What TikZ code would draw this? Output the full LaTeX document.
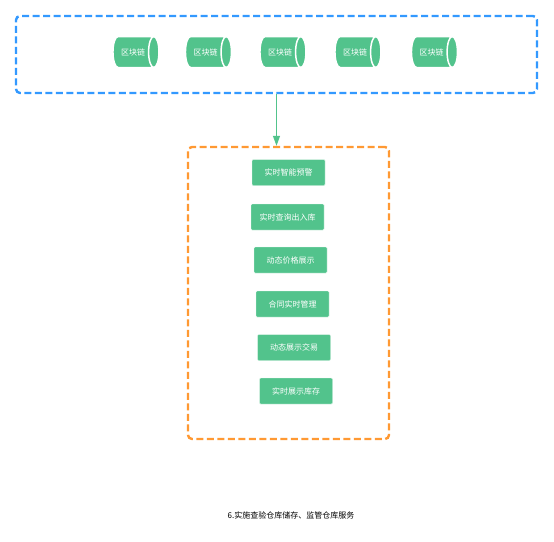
\documentclass[tikz,border=0pt]{standalone}
\usepackage{fontspec}
\setmainfont{Noto Sans CJK SC}
\usepackage{tikz}
\usetikzlibrary{arrows.meta, positioning, shapes.geometric}
\definecolor{chaingreen}{RGB}{82,195,140}
\definecolor{dashblue}{RGB}{51,153,255}
\definecolor{dashorange}{RGB}{255,153,51}

\begin{document}
\begin{tikzpicture}[
  x=1pt, y=-1pt,
  grp/.style={rectangle, rounded corners=4pt, line width=2.4pt,
              dash pattern=on 7pt off 3.5pt},
  cyl/.style={cylinder, shape aspect=1.4, draw=white, line width=1.5pt,
              fill=chaingreen, minimum height=46pt, minimum width=31pt,
              inner sep=0pt, text=white, font=\fontsize{8}{10}\selectfont},
  svc/.style={rectangle, rounded corners=1pt, draw=white!85!chaingreen,
              fill=chaingreen, minimum width=73pt, minimum height=26pt,
              inner sep=0pt, text=white, font=\fontsize{8}{10}\selectfont},
  arr/.style={-{Triangle[width=7pt, length=10pt]}, line width=1.3pt, chaingreen},
]
  \useasboundingbox (0,0) rectangle (554,541);

  % blockchain layer
  \node[grp, draw=dashblue, minimum width=521pt, minimum height=77pt] (chain) at (276.5,54.5) {};
  \node[cyl] (c1) at (133,52)   {区块链};
  \node[cyl] (c2) at (205.5,52) {区块链};
  \node[cyl] (c3) at (280,52)   {区块链};
  \node[cyl] (c4) at (355,52)   {区块链};
  \node[cyl] (c5) at (431.5,52) {区块链};

  % services
  \node[grp, draw=dashorange, minimum width=201pt, minimum height=292pt] (serv) at (288.5,293) {};
  \node[svc] (s1) at (288.5,172.5) {实时智能预警};
  \node[svc] (s2) at (287.5,217)   {实时查询出入库};
  \node[svc] (s3) at (290.5,260)   {动态价格展示};
  \node[svc] (s4) at (292.5,304)   {合同实时管理};
  \node[svc] (s5) at (294,347.5)   {动态展示交易};
  \node[svc] (s6) at (296,391)     {实时展示库存};

  \draw[arr] (chain.south) -- (chain.south |- serv.north);

  \node[font=\fontsize{8}{10}\selectfont] (title) at (291,515)
    {6.实施查验仓库储存、监管仓库服务};
\end{tikzpicture}
\end{document}
